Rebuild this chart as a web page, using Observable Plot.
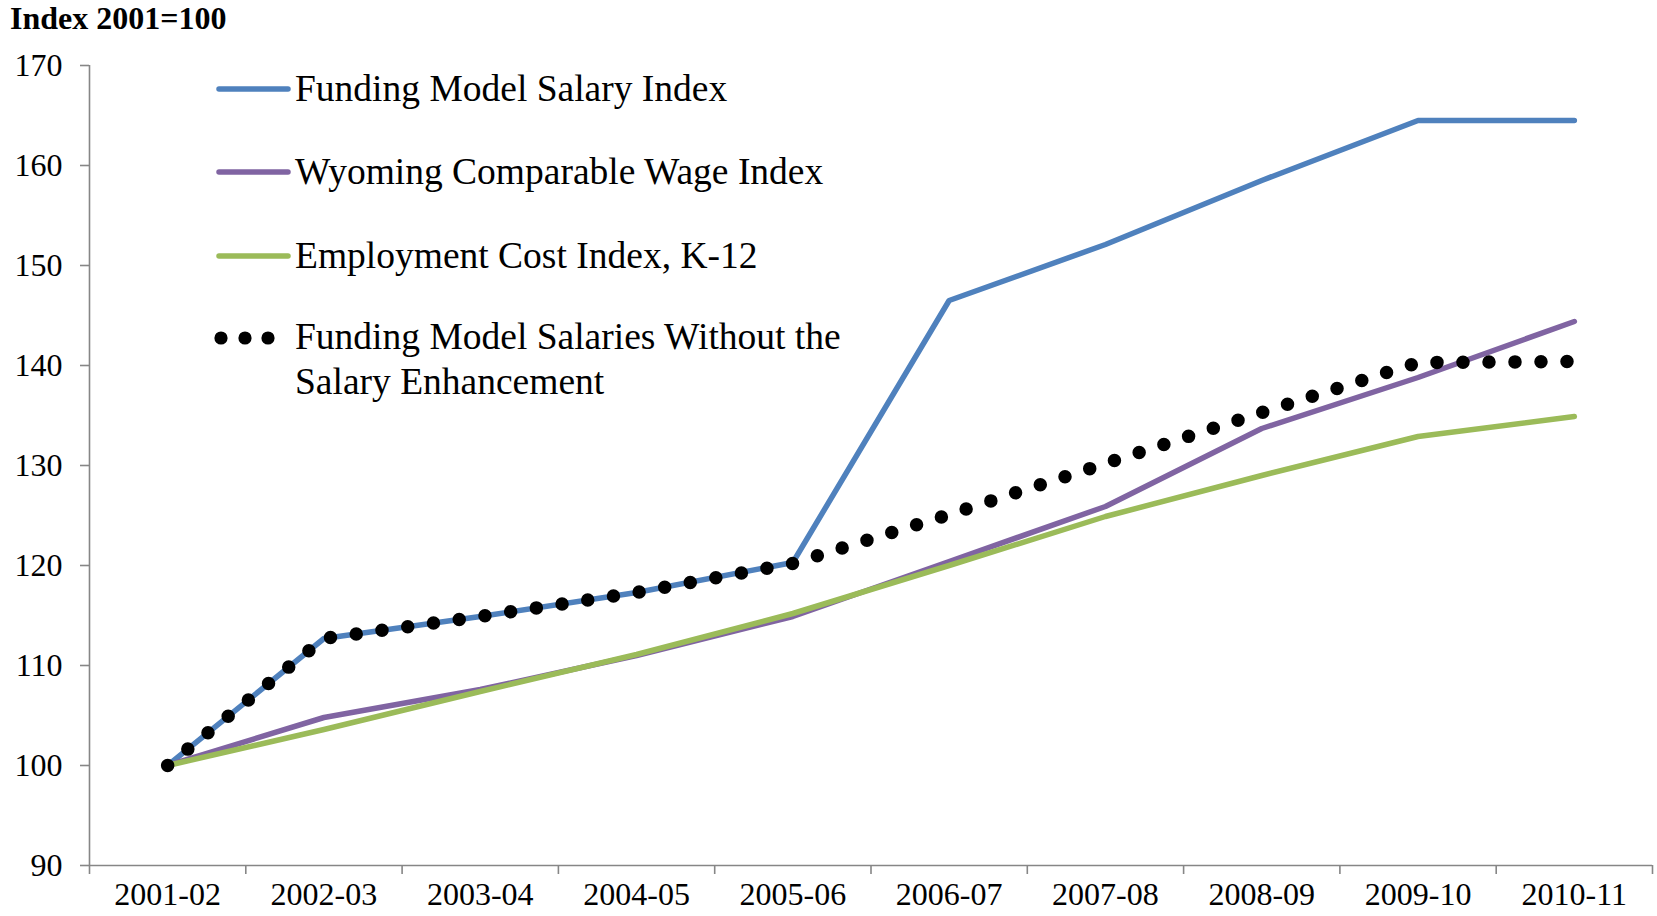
<!DOCTYPE html>
<html>
<head>
<meta charset="utf-8">
<script src="https://cdn.jsdelivr.net/npm/d3@7"></script>
<script src="https://cdn.jsdelivr.net/npm/@observablehq/plot@0.6"></script>
<style>
  body { margin: 0; background: #fff; }
  #wrap { position: relative; width: 1657px; height: 916px; font-family: "Liberation Serif", "Times New Roman", serif; }
  #overlay { position: absolute; left: 0; top: 0; pointer-events: none; }
</style>
</head>
<body>
<div id="wrap"></div>
<script>
// ---- Data ----
const years = ["2001-02","2002-03","2003-04","2004-05","2005-06","2006-07","2007-08","2008-09","2009-10","2010-11"];
const fundingModel       = [100, 112.7, 114.9, 117.3, 120.3, 146.5, 152.1, 158.5, 164.5, 164.5];
const wyomingCWI         = [100, 104.8, 107.6, 111.0, 114.9, 120.4, 125.9, 133.7, 138.8, 144.4];
const eciK12             = [100, 103.6, 107.4, 111.1, 115.2, 120.0, 124.9, 129.0, 132.9, 134.9];
const withoutEnhancement = [100, 112.7, 114.9, 117.3, 120.2, 125.1, 130.2, 135.3, 140.3, 140.4];
const yTicks = [90, 100, 110, 120, 130, 140, 150, 160, 170];
const seriesNames = [
  "Funding Model Salary Index",
  "Wyoming Comparable Wage Index",
  "Employment Cost Index, K-12",
  "Funding Model Salaries Without the Salary Enhancement"
];
const seriesColors = ["#4F81BD", "#8064A2", "#9BBB59", "#000000"];
const titleText = "Index 2001=100";

// ---- Build rows ----
const rows = (vals) => vals.map((v, i) => ({i: i + 0.5, v}));
const axisColor = "#868686";

const plot = Plot.plot({
  width: 1657,
  height: 916,
  marginLeft: 89,
  marginRight: 5,
  marginTop: 65,
  marginBottom: 51,
  x: {domain: [0, years.length]},
  y: {domain: [90, 170]},
  style: {fontFamily: "'Liberation Serif', 'Times New Roman', serif", fontSize: "32px", color: "#000", background: "#fff", overflow: "visible"},
  marks: [
    Plot.ruleX([0], {stroke: axisColor, strokeWidth: 1.6}),
    Plot.ruleY([90], {stroke: axisColor, strokeWidth: 1.6}),
    Plot.axisY({ticks: yTicks, tickSize: 9, tickPadding: 18, stroke: axisColor, strokeWidth: 1.6, fill: "#000", label: null, tickFormat: d => String(d)}),
    Plot.axisX({ticks: d3.range(0, years.length + 1), tickSize: 9, stroke: axisColor, strokeWidth: 1.6, tickFormat: () => "", label: null}),
    Plot.axisX({ticks: years.map((d, i) => i + 0.5), tickSize: 0, tickPadding: 17, fill: "#000", tickFormat: d => years[Math.floor(d)], label: null}),
    Plot.line(rows(fundingModel), {x: "i", y: "v", stroke: seriesColors[0], strokeWidth: 5.5, strokeLinecap: "round", strokeLinejoin: "round"}),
    Plot.line(rows(wyomingCWI), {x: "i", y: "v", stroke: seriesColors[1], strokeWidth: 5.5, strokeLinecap: "round", strokeLinejoin: "round"}),
    Plot.line(rows(eciK12), {x: "i", y: "v", stroke: seriesColors[2], strokeWidth: 5.5, strokeLinecap: "round", strokeLinejoin: "round"}),
    Plot.line(rows(withoutEnhancement), {x: "i", y: "v", stroke: seriesColors[3], strokeWidth: 13.5, strokeDasharray: "0 26", strokeLinecap: "round", strokeLinejoin: "round"})
  ]
});

const wrap = document.getElementById("wrap");
wrap.appendChild(plot);

// ---- Title and legend overlay ----
const NS = "http://www.w3.org/2000/svg";
const ov = document.createElementNS(NS, "svg");
ov.setAttribute("id", "overlay");
ov.setAttribute("width", 1657);
ov.setAttribute("height", 916);
wrap.appendChild(ov);

function txt(x, y, s, size, bold) {
  const t = document.createElementNS(NS, "text");
  t.setAttribute("x", x); t.setAttribute("y", y);
  t.setAttribute("font-family", "'Liberation Serif', 'Times New Roman', serif");
  t.setAttribute("font-size", size);
  if (bold) t.setAttribute("font-weight", "bold");
  t.setAttribute("fill", "#000");
  t.textContent = s;
  ov.appendChild(t);
}
txt(10, 29, titleText, 32, true);

const legendY = [89, 172, 256, 338];
for (let k = 0; k < 3; k++) {
  const l = document.createElementNS(NS, "line");
  l.setAttribute("x1", 219); l.setAttribute("x2", 288);
  l.setAttribute("y1", legendY[k]); l.setAttribute("y2", legendY[k]);
  l.setAttribute("stroke", seriesColors[k]); l.setAttribute("stroke-width", 5.5);
  l.setAttribute("stroke-linecap", "round");
  ov.appendChild(l);
  txt(295, legendY[k] + 12, seriesNames[k], 37.5, false);
}
[221, 245, 268].forEach(cx => {
  const c = document.createElementNS(NS, "circle");
  c.setAttribute("cx", cx); c.setAttribute("cy", legendY[3]); c.setAttribute("r", 6.6);
  c.setAttribute("fill", seriesColors[3]);
  ov.appendChild(c);
});
txt(295, legendY[3] + 11, "Funding Model Salaries Without the", 37.5, false);
txt(295, legendY[3] + 56, "Salary Enhancement", 37.5, false);
</script>
</body>
</html>
